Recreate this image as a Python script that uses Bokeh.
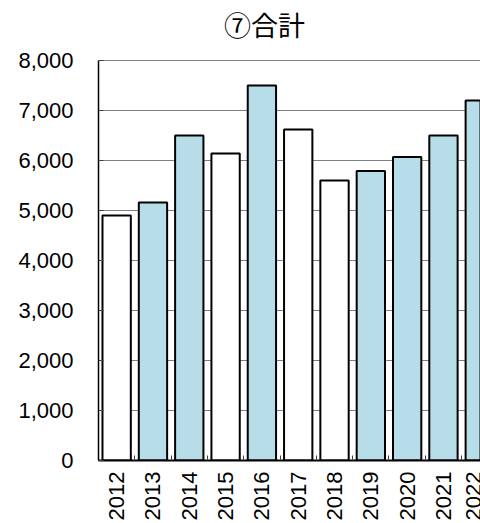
import numpy as np
from bokeh.plotting import figure
from bokeh.models import Range1d, FixedTicker, ColumnDataSource, NumeralTickFormatter, Label
from bokeh.embed import file_html
from bokeh.resources import INLINE

# ---- data ----
years = ["2012", "2013", "2014", "2015", "2016", "2017", "2018", "2019", "2020", "2021", "2022"]
totals = [4900, 5160, 6500, 6140, 7500, 6620, 5600, 5790, 6070, 6500, 7200]
bar_colors = ["white", "#B7DEE8", "#B7DEE8", "white", "#B7DEE8", "white", "white",
              "#B7DEE8", "#B7DEE8", "#B7DEE8", "#B7DEE8"]
y_ticks = [0, 1000, 2000, 3000, 4000, 5000, 6000, 7000, 8000]
title_text = "⑦合計"

x = list(range(len(years)))
src = ColumnDataSource(dict(x=x, top=totals, fill=bar_colors))

# frame spans the full height above the axis; the value axis itself is bounded to 0-8000
p = figure(width=480, height=523, output_backend="svg", toolbar_location=None,
           x_range=Range1d(-0.5, 10.02), y_range=Range1d(0, 9200),
           min_border_left=98, min_border_right=0, min_border_top=0, min_border_bottom=63)
p.background_fill_color = "white"
p.border_fill_color = "white"
p.outline_line_color = None

# title (screen units, relative to the plot frame)
p.add_layout(Label(x=166, y=436, x_units="screen", y_units="screen", text=title_text,
                   text_align="center", text_baseline="middle",
                   text_font="Noto Sans CJK JP", text_font_size="27px",
                   text_color="black"))

p.xgrid.grid_line_color = None
p.ygrid.ticker = FixedTicker(ticks=y_ticks)
p.ygrid.grid_line_color = "#808080"
p.ygrid.grid_line_width = 1.2

# y axis
p.yaxis.bounds = (y_ticks[0], y_ticks[-1])
p.yaxis.ticker = FixedTicker(ticks=y_ticks)
p.yaxis.formatter = NumeralTickFormatter(format="0,0")
p.yaxis.major_tick_in = 5
p.yaxis.major_tick_out = 0
p.yaxis.major_tick_line_color = "#404040"
p.yaxis.minor_tick_line_color = None
p.yaxis.axis_line_color = "black"
p.yaxis.axis_line_width = 1.5
p.yaxis.major_label_text_font = "Liberation Sans"
p.yaxis.major_label_text_font_size = "22px"
p.yaxis.major_label_text_color = "black"
p.yaxis.major_label_standoff = 25

# x axis
p.xaxis.ticker = FixedTicker(ticks=x, minor_ticks=[i - 0.5 for i in range(len(years) + 1)])
p.xaxis.major_label_overrides = {i: y for i, y in enumerate(years)}
p.xaxis.major_tick_line_color = None
p.xaxis.minor_tick_in = 5
p.xaxis.minor_tick_out = 0
p.xaxis.minor_tick_line_color = "#404040"
p.xaxis.axis_line_color = "black"
p.xaxis.axis_line_width = 2
p.xaxis.major_label_orientation = np.pi / 2
p.xaxis.major_label_standoff = 5
p.xaxis.major_label_text_font = "Liberation Sans"
p.xaxis.major_label_text_font_size = "22px"
p.xaxis.major_label_text_color = "black"

p.vbar(x="x", top="top", bottom=0, width=0.78, fill_color="fill",
       line_color="black", line_width=2, source=src)

open("out.html", "w").write(file_html(p, INLINE))
